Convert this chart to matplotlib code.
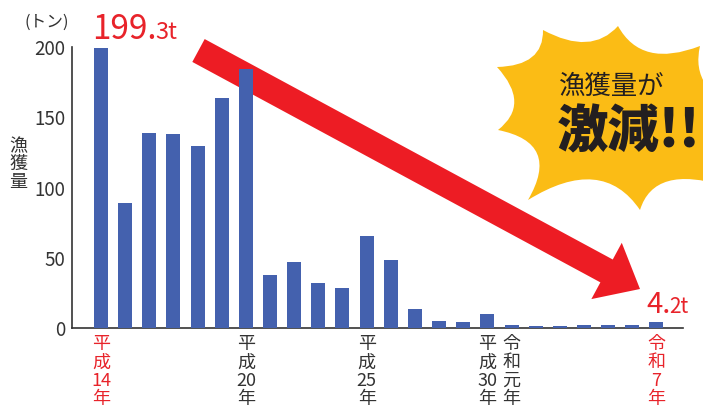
import matplotlib
matplotlib.use("Agg")
import matplotlib.pyplot as plt
import numpy as np
from matplotlib.path import Path
from matplotlib.patches import PathPatch, Polygon

plt.rcParams['font.family'] = ['Noto Sans CJK JP', 'DejaVu Sans']

# ---- data ----
years = ["平成14年", "平成15年", "平成16年", "平成17年", "平成18年", "平成19年",
         "平成20年", "平成21年", "平成22年", "平成23年", "平成24年", "平成25年",
         "平成26年", "平成27年", "平成28年", "平成29年", "平成30年", "令和元年",
         "令和2年", "令和3年", "令和4年", "令和5年", "令和6年", "令和7年"]
catch_t = [199.3, 89, 139, 138, 129.5, 164, 184, 37.5, 47, 32, 28.5, 65.5,
           48.5, 13.5, 5, 4.3, 10, 2.2, 1.2, 1.2, 1.8, 1.8, 1.8, 4.2]
tick_idx = [0, 6, 11, 16, 17, 23]
tick_labels = ["平\n成\n14\n年", "平\n成\n20\n年", "平\n成\n25\n年",
               "平\n成\n30\n年", "令\n和\n元\n年", "令\n和\n7\n年"]
tick_colors = ["#E8232A", "#333333", "#333333", "#333333", "#333333", "#E8232A"]
yticks = [0, 50, 100, 150, 200]

BAR = "#4461AE"
RED = "#ED1C24"
YEL = "#FBBC15"
DARK = "#333333"

W, H = 703, 412
fig = plt.figure(figsize=(W / 100, H / 100), dpi=100)

def fx(px):
    return px / W

def fy(py):
    return 1 - py / H

ax = fig.add_axes([fx(72), fy(328), fx(683) - fx(72), fy(47) - fy(328)])
x = np.arange(len(catch_t))
ax.bar(x, catch_t, width=0.58, color=BAR, zorder=3)
ax.set_xlim(-1.2, 24.1)
ax.set_ylim(0, 200)
ax.set_yticks(yticks)
ax.set_yticklabels([str(v) for v in yticks], fontsize=13.5, color=DARK)
ax.set_xticks(tick_idx)
ax.set_xticklabels(tick_labels, fontsize=13, linespacing=1.03)
for lab, c in zip(ax.get_xticklabels(), tick_colors):
    lab.set_color(c)
ax.tick_params(axis='both', length=0)
ax.tick_params(axis='x', pad=5)
ax.tick_params(axis='y', pad=5)
for s in ['top', 'right']:
    ax.spines[s].set_visible(False)
for s in ['left', 'bottom']:
    ax.spines[s].set_color(DARK)
    ax.spines[s].set_linewidth(1.2)
ax.patch.set_alpha(0)

# axis labels
fig.text(fx(47), fy(22), "(トン)", fontsize=12, color=DARK, ha='center', va='center')
fig.text(fx(18), fy(164), "漁\n獲\n量", fontsize=13, color=DARK, ha='center',
         va='center', linespacing=0.98)

# ---- starburst ----
tips = [(497, 67), (543, 30), (618, 26), (700, 46), (745, 112), (725, 186),
        (640, 210), (528, 200), (498, 130)]
sags = [0.25, 0.2, 0.22, 0.22, 0.22, 0.25, 0.24, 0.35, 0.27]
cx, cy = 615, 118
verts, codes = [], []
for i, (p, sg) in enumerate(zip(tips, sags)):
    q = tips[(i + 1) % len(tips)]
    mx, my = (p[0] + q[0]) / 2, (p[1] + q[1]) / 2
    L = np.hypot(q[0] - p[0], q[1] - p[1])
    vx, vy = cx - mx, cy - my
    n = np.hypot(vx, vy)
    ctrl = (mx + vx / n * 2 * sg * L, my + vy / n * 2 * sg * L)
    if i == 0:
        verts.append((fx(p[0]), fy(p[1])))
        codes.append(Path.MOVETO)
    verts += [(fx(ctrl[0]), fy(ctrl[1])), (fx(q[0]), fy(q[1]))]
    codes += [Path.CURVE3, Path.CURVE3]
verts.append(verts[0])
codes.append(Path.CLOSEPOLY)
fig.patches.append(PathPatch(Path(verts, codes), transform=fig.transFigure,
                             facecolor=YEL, edgecolor='none', zorder=1))

fig.text(fx(612), fy(86), "漁獲量が", fontsize=19, color="#231F20",
         ha='center', va='center', zorder=5)
fig.text(fx(557), fy(132), "激減!!", fontsize=37, color="#231F20",
         fontweight='heavy', ha='left', va='center', zorder=5)

# ---- arrow (decoration) ----
S = np.array([198.5, 50.5])
T = np.array([640.0, 289.0])
u = (T - S) / np.linalg.norm(T - S)
nrm = np.array([-u[1], u[0]])
hw_shaft, hw_head, head_len = 13.0, 32.0, 38.0
B = T - u * head_len
pts = [S + nrm * hw_shaft, B + nrm * hw_shaft, B + nrm * hw_head, T,
       B - nrm * hw_head, B - nrm * hw_shaft, S - nrm * hw_shaft]
arrow = Polygon([(fx(p[0]), fy(p[1])) for p in pts], closed=True,
                transform=fig.transFigure, facecolor=RED, edgecolor='none',
                zorder=0.5)
fig.patches.append(arrow)
ax.set_zorder(2)

# ---- value callouts ----
def split_val(v):
    s = f"{v}"
    a, b = s.split(".")
    return a + ".", b + "t"

fig.canvas.draw()
r = fig.canvas.get_renderer()
for val, xpx, ypx, big, small in [(catch_t[0], 92, 39, 24, 17),
                                  (catch_t[-1], 646, 313, 21, 15)]:
    a, b = split_val(val)
    t1 = fig.text(fx(xpx), fy(ypx), a, fontsize=big, color="#E8232A",
                  ha='left', va='baseline', zorder=6)
    bb = t1.get_window_extent(renderer=r)
    fig.text(bb.x1 / W - 0.002, fy(ypx), b, fontsize=small, color="#E8232A",
             ha='left', va='baseline', zorder=6)

fig.savefig("out.png", dpi=100)
